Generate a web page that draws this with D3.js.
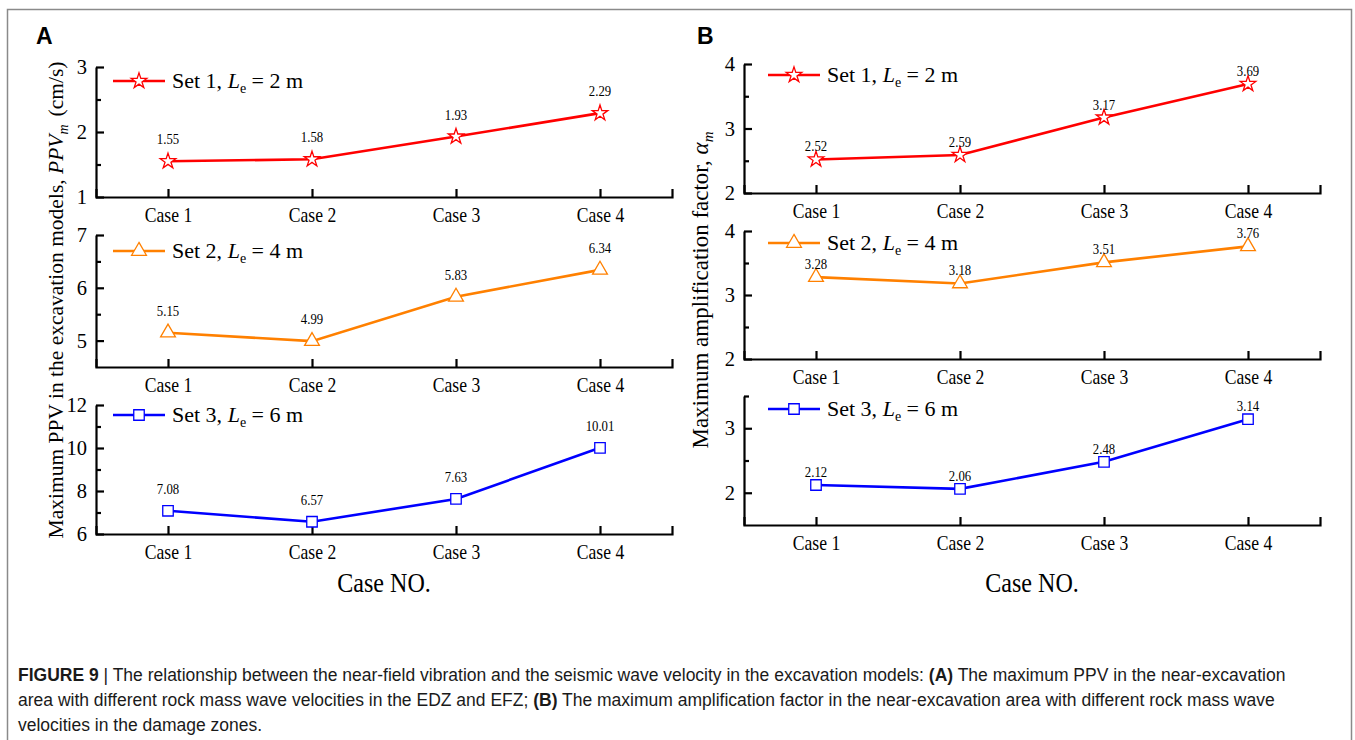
<!DOCTYPE html>
<html>
<head>
<meta charset="utf-8">
<script src="https://cdn.jsdelivr.net/npm/d3@7"></script>
<style>
body { margin: 0; background: #fff; }
svg { display: block; }
</style>
</head>
<body>
<svg id="fig" width="1355" height="740"></svg>
<script>
'use strict';

var cases = ["Case 1", "Case 2", "Case 3", "Case 4"];
var setNames = ["Set 1", "Set 2", "Set 3"];
var setLengths = ["2", "4", "6"];

// panel A: maximum PPV (cm/s)
var ppvSet1 = [1.55, 1.58, 1.93, 2.29];
var ppvSet2 = [5.15, 4.99, 5.83, 6.34];
var ppvSet3 = [7.08, 6.57, 7.63, 10.01];
var ppvDomains = [[1, 3], [4.5, 7], [6, 12]];
var ppvTicks = [[1, 2, 3], [5, 6, 7], [6, 8, 10, 12]];
var ppvMinor = [[1.5, 2.5], [5.5, 6.5], [7, 9, 11]];

// panel B: maximum amplification factor
var ampSet1 = [2.52, 2.59, 3.17, 3.69];
var ampSet2 = [3.28, 3.18, 3.51, 3.76];
var ampSet3 = [2.12, 2.06, 2.48, 3.14];
var ampDomains = [[2, 4], [2, 4], [1.5, 3.5]];
var ampTicks = [[2, 3, 4], [2, 3, 4], [2, 3]];
var ampMinor = [[2.5, 3.5], [2.5, 3.5], [2.5, 3.5]];

var setColors = ["#ff0000", "#ff8000", "#0000ff"];
var setSymbols = [d3.symbolStar, d3.symbolTriangle, d3.symbolSquare];
var symbolSizes = [75, 95, 110];

var serif = "'Liberation Serif', 'Times New Roman', serif";
var sans = "'Liberation Sans', Arial, sans-serif";

var svg = d3.select("#fig");

/************************************************ frame ******************************************************/
svg.append("path")
    .attr("d", "M7.5,740 V9.5 H1351.5 V740")
    .attr("fill", "none")
    .attr("stroke", "#8a8a8a")
    .attr("stroke-width", 1.5);

/**
 * draws one column of three stacked line charts
 */
function drawPanel(p) {
    var x = d3.scalePoint().domain(cases).range([p.x0, p.x1]).padding(0.5);

    p.rows.forEach(function (row, r) {
        var g = svg.append("g");
        var y = d3.scaleLinear().domain(p.domains[r]).range([row.bottom, row.top]);

        // minor y ticks
        g.append("g")
            .attr("transform", "translate(" + p.x0 + ",0)")
            .call(d3.axisLeft(y).tickValues(p.minor[r]).tickSizeInner(-5).tickSizeOuter(0).tickFormat(""))
            .call(function (a) { a.select(".domain").remove(); });

        // major y ticks
        var ya = g.append("g")
            .attr("transform", "translate(" + p.x0 + ",0)")
            .call(d3.axisLeft(y).tickValues(p.ticks[r]).tickFormat(d3.format("d"))
                .tickSizeInner(-8).tickSizeOuter(0).tickPadding(9))
            .attr("font-family", serif)
            .attr("font-size", 20.5);
        ya.selectAll("text").attr("fill", "#000");

        // x axis, ticks pointing up
        var xa = g.append("g")
            .attr("transform", "translate(0," + row.bottom + ")")
            .call(d3.axisBottom(x).tickSizeInner(-8).tickSizeOuter(-8).tickPadding(11))
            .attr("font-family", serif)
            .attr("font-size", 20);
        xa.selectAll("text")
            .attr("fill", "#000")
            .attr("transform", "scale(0.88,1)");

        g.selectAll(".domain, .tick line").attr("stroke", "#000").attr("stroke-width", 2.2);

        var vals = p.series[r];
        var line = d3.line()
            .x(function (d, i) { return x(cases[i]); })
            .y(function (d) { return y(d); });

        g.append("path")
            .datum(vals)
            .attr("d", line)
            .attr("fill", "none")
            .attr("stroke", setColors[r])
            .attr("stroke-width", 2.6);

        var sym = d3.symbol().type(setSymbols[r]).size(symbolSizes[r]);

        g.selectAll(".pt")
            .data(vals)
            .enter()
            .append("path")
            .attr("class", "pt")
            .attr("d", sym)
            .attr("transform", function (d, i) {
                return "translate(" + x(cases[i]) + "," + y(d) + ")";
            })
            .attr("fill", "#fff")
            .attr("stroke", setColors[r])
            .attr("stroke-width", 1.3);

        g.selectAll(".lbl")
            .data(vals)
            .enter()
            .append("text")
            .attr("class", "lbl")
            .attr("transform", function (d, i) {
                return "translate(" + x(cases[i]) + "," + (y(d) - p.labelGap) + ") scale(0.88,1)";
            })
            .attr("text-anchor", "middle")
            .attr("font-family", serif)
            .attr("font-size", 14.5)
            .text(function (d) { return d.toFixed(2); });

        // legend
        var lg = g.append("g").attr("transform", "translate(" + p.legendX + "," + row.legendY + ")");
        lg.append("line")
            .attr("x1", 0).attr("x2", 52)
            .attr("stroke", setColors[r])
            .attr("stroke-width", 2.6);
        lg.append("path")
            .attr("d", sym)
            .attr("transform", "translate(26,0)")
            .attr("fill", "#fff")
            .attr("stroke", setColors[r])
            .attr("stroke-width", 1.3);
        var lt = lg.append("text")
            .attr("x", 59)
            .attr("y", 7)
            .attr("font-family", serif)
            .attr("font-size", 22);
        lt.append("tspan").text(setNames[r] + ", ");
        lt.append("tspan").attr("font-style", "italic").text("L");
        lt.append("tspan").attr("font-size", 14).attr("dy", 5).text("e");
        lt.append("tspan").attr("dy", -5).text(" = " + setLengths[r] + " m");
    });

    // x axis title
    svg.append("text")
        .attr("transform", "translate(" + ((p.x0 + p.x1) / 2) + ",592) scale(0.86,1)")
        .attr("text-anchor", "middle")
        .attr("font-family", serif)
        .attr("font-size", 28)
        .text("Case NO.");

    // panel letter
    svg.append("text")
        .attr("x", p.letterX)
        .attr("y", 44)
        .attr("font-family", sans)
        .attr("font-weight", "bold")
        .attr("font-size", 23)
        .text(p.letter);
}

drawPanel({
    letter: "A", letterX: 36,
    x0: 96, x1: 672,
    legendX: 113,
    labelGap: 17,
    rows: [
        { top: 67, bottom: 197, legendY: 81 },
        { top: 235, bottom: 367, legendY: 251 },
        { top: 405, bottom: 534, legendY: 415 }
    ],
    series: [ppvSet1, ppvSet2, ppvSet3],
    domains: ppvDomains, ticks: ppvTicks, minor: ppvMinor
});

drawPanel({
    letter: "B", letterX: 697,
    x0: 744, x1: 1320,
    legendX: 768,
    labelGap: 8,
    rows: [
        { top: 64, bottom: 193, legendY: 75 },
        { top: 231, bottom: 359, legendY: 243 },
        { top: 396, bottom: 525, legendY: 409 }
    ],
    series: [ampSet1, ampSet2, ampSet3],
    domains: ampDomains, ticks: ampTicks, minor: ampMinor
});

// y axis titles
var ta = svg.append("text")
    .attr("transform", "translate(63,300) rotate(-90)")
    .attr("text-anchor", "middle")
    .attr("font-family", serif)
    .attr("font-size", 21.5);
ta.append("tspan").text("Maximum PPV in the excavation models, ");
ta.append("tspan").attr("font-style", "italic").text("PPV");
ta.append("tspan").attr("font-style", "italic").attr("font-size", 14).attr("dy", 5).text("m");
ta.append("tspan").attr("dy", -5).attr("dx", 8).text("(cm/s)");

var tb = svg.append("text")
    .attr("transform", "translate(708,290) rotate(-90)")
    .attr("text-anchor", "middle")
    .attr("font-family", serif)
    .attr("font-size", 23);
tb.append("tspan").text("Maximum amplification factor, ");
tb.append("tspan").attr("font-style", "italic").text("\u03b1");
tb.append("tspan").attr("font-style", "italic").attr("font-size", 15).attr("dy", 5).text("m");

/************************************************ caption ******************************************************/
var captionLines = [
    [["FIGURE 9", true], [" | The relationship between the near-field vibration and the seismic wave velocity in the excavation models: ", false], ["(A)", true], [" The maximum PPV in the near-excavation", false]],
    [["area with different rock mass wave velocities in the EDZ and EFZ; ", false], ["(B)", true], [" The maximum amplification factor in the near-excavation area with different rock mass wave", false]],
    [["velocities in the damage zones.", false]]
];

captionLines.forEach(function (parts, i) {
    var t = svg.append("text")
        .attr("x", 18)
        .attr("y", 681 + i * 25)
        .attr("font-family", sans)
        .attr("font-size", 17.5)
        .attr("fill", "#1a1a1a");
    parts.forEach(function (pt) {
        t.append("tspan")
            .attr("font-weight", pt[1] ? "bold" : "normal")
            .text(pt[0]);
    });
});
</script>
</body>
</html>
